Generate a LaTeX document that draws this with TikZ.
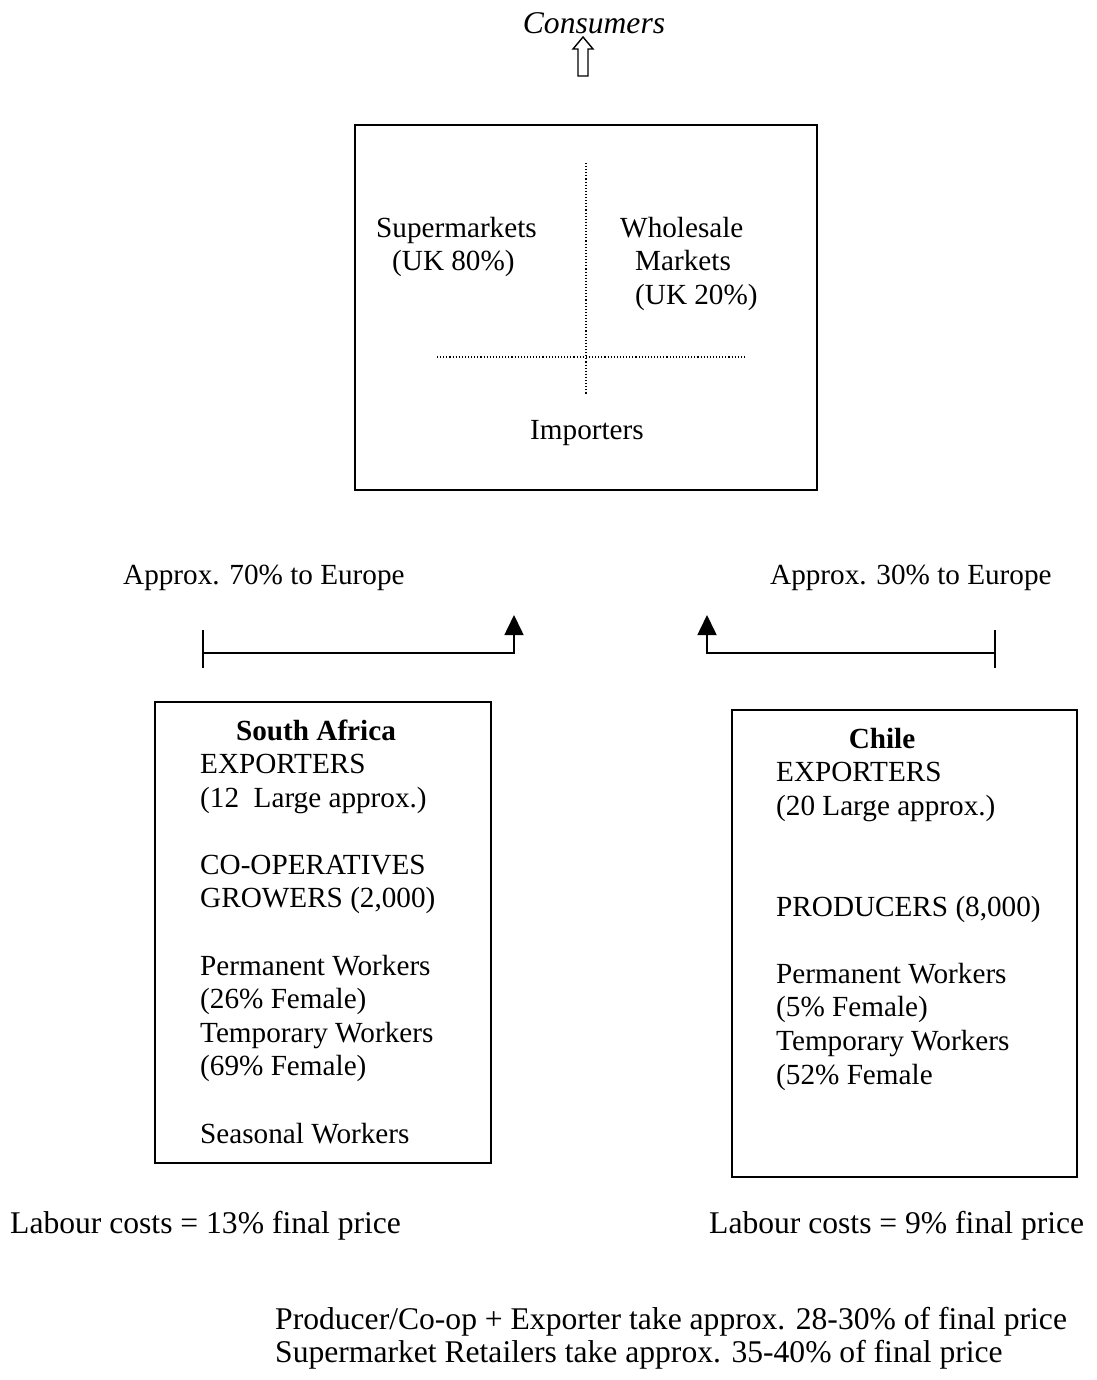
\documentclass[tikz,border=0pt]{standalone}
\usepackage{fontspec}
\setmainfont{Liberation Serif}
\usetikzlibrary{arrows.meta}
\tikzset{
  txt/.style={inner sep=0pt, font=\fontsize{29.2}{33.6}\selectfont, align=left},
  big/.style={inner sep=0pt, font=\fontsize{31.6}{33}\selectfont, align=left},
  box/.style={draw, line width=1.6pt, inner sep=0pt},
  dots/.style={line width=1.1pt, dash pattern=on 1.1pt off 2pt},
  link/.style={line width=1.6pt, -{Triangle[width=19pt,length=20pt]}},
  tick/.style={line width=1.6pt}
}

\begin{document}
\begin{tikzpicture}[x=1pt,y=-1pt]
\useasboundingbox (0,0) rectangle (1096,1380);
% consumers
\node[big, font=\fontsize{31.6}{33}\selectfont\itshape, anchor=base] (cons) at (594,34) {Consumers};
\draw[line width=1.4pt] (578,76) -- (578,49) -- (573,49) -- (583,37)
  -- (593,49) -- (588,49) -- (588,76) -- cycle;

% UK box
\node[box, minimum width=462pt, minimum height=365pt] (uk) at (586,307.5) {};
\draw[dots] (586,163) -- (586,395);
\draw[dots] (437,357) -- (744,357);
\node[txt, anchor=base west] (super) at (376,237) {Supermarkets};
\node[txt, anchor=base west] (superuk) at (392,270) {(UK 80\%)};
\node[txt, anchor=base west] (whole) at (620,237) {Wholesale};
\node[txt, anchor=base west] (wholemk) at (635,270) {Markets};
\node[txt, anchor=base west] (wholeuk) at (635,304) {(UK 20\%)};
\node[txt, anchor=base] (imp) at (587,439) {Importers};

% shares to Europe
\node[txt, anchor=base west] (saeu) at (123,584) {Approx. 70\% to Europe};
\node[txt, anchor=base west] (cleu) at (770,584) {Approx. 30\% to Europe};
\coordinate (satick) at (203,653);
\coordinate (satip) at (514,615);
\draw[tick] (203,630) -- (203,668);
\draw[link] (satick) -- (satick -| satip) -- (satip);
\coordinate (cltick) at (995,653);
\coordinate (cltip) at (707,615);
\draw[tick] (995,630) -- (995,668);
\draw[link] (cltick) -- (cltick -| cltip) -- (cltip);

% South Africa (list placed by its last line)
\node[box, minimum width=336pt, minimum height=461pt] (sa) at (323,932.5) {};
\node[txt, font=\fontsize{29.2}{33.6}\selectfont\bfseries, anchor=base] (satitle) at (316,740) {South Africa};
\node[txt, anchor=base west] (salist) at (200,1143) {EXPORTERS\\(12~~Large approx.)\\\mbox{}\\
  CO-OPERATIVES\\GROWERS (2,000)\\\mbox{}\\
  Permanent Workers\\(26\% Female)\\Temporary Workers\\(69\% Female)\\\mbox{}\\
  Seasonal Workers};

% Chile
\node[box, minimum width=345pt, minimum height=467pt] (cl) at (904.5,943.5) {};
\node[txt, font=\fontsize{29.2}{33.6}\selectfont\bfseries, anchor=base] (cltitle) at (882,748) {Chile};
\node[txt, anchor=base west] (cllist) at (776,1084) {EXPORTERS\\(20 Large approx.)\\\mbox{}\\\mbox{}\\
  PRODUCERS (8,000)\\\mbox{}\\
  Permanent Workers\\(5\% Female)\\Temporary Workers\\(52\% Female};

% price split
\node[big, anchor=base west] (salab) at (10,1233) {Labour costs = 13\% final price};
\node[big, anchor=base west] (cllab) at (709,1233) {Labour costs = 9\% final price};
\node[big, anchor=base west] (split) at (275,1362) {Producer/Co-op + Exporter take approx. 28-30\% of final price\\
  Supermarket Retailers take approx. 35-40\% of final price};
\end{tikzpicture}
\end{document}
